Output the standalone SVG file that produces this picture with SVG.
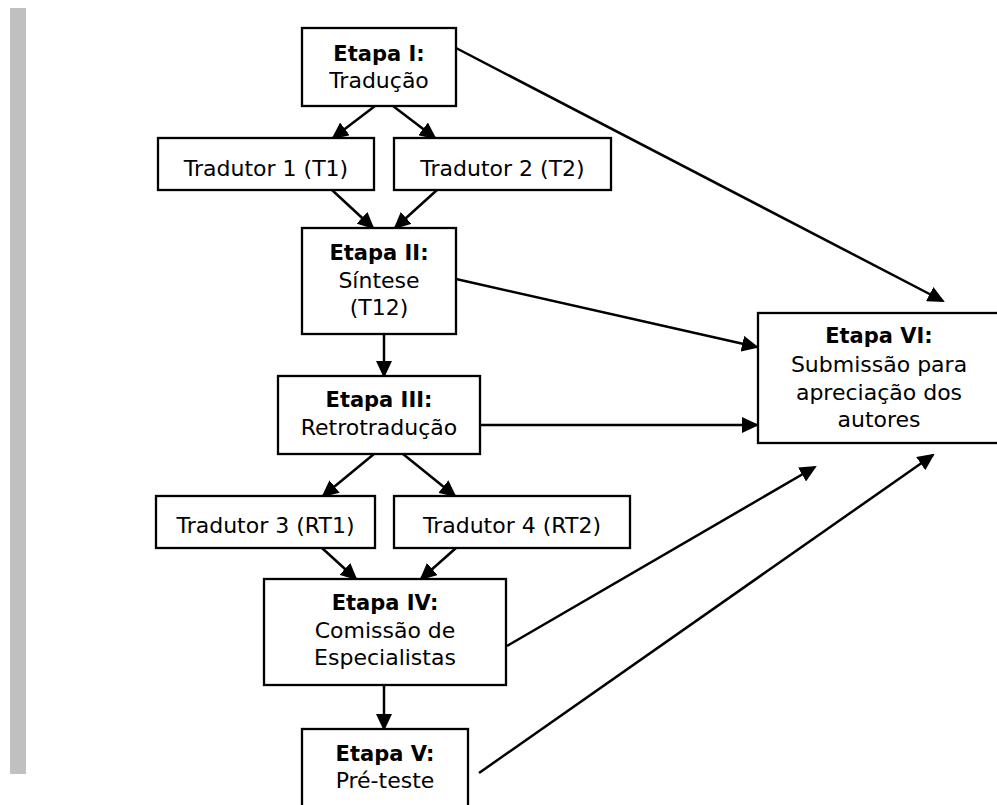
<svg xmlns="http://www.w3.org/2000/svg" width="997" height="805" viewBox="0 0 997 805">
<style>
.box{fill:#fff;stroke:#000;stroke-width:2.3}
text{font-family:"DejaVu Sans","Liberation Sans",sans-serif;font-size:22px;fill:#000;text-anchor:middle}
.b{font-weight:bold;font-size:21px}
.c line{stroke:#000;stroke-width:2.5;marker-end:url(#ah)}
</style>
<defs>
<marker id="ah" markerUnits="userSpaceOnUse" markerWidth="17" markerHeight="16" refX="15" refY="8" orient="auto" viewBox="0 0 17 16">
<path d="M0,0 L17,8 L0,16 z" fill="#000"/>
</marker>
</defs>
<rect x="10" y="8" width="16" height="766" fill="#c0c0c0"/>
<g class="c" id="connectors">
<line x1="375" y1="106" x2="333" y2="138"/>
<line x1="393" y1="106" x2="435" y2="138"/>
<line x1="332" y1="190" x2="373" y2="228"/>
<line x1="437" y1="190" x2="395" y2="228"/>
<line x1="384" y1="334" x2="384" y2="376"/>
<line x1="374" y1="454" x2="323" y2="496"/>
<line x1="403" y1="454" x2="455" y2="496"/>
<line x1="322" y1="548" x2="356" y2="579"/>
<line x1="456" y1="548" x2="421" y2="579"/>
<line x1="384" y1="685" x2="384" y2="729"/>
<line x1="456" y1="48" x2="943" y2="301"/>
<line x1="456" y1="279" x2="757" y2="347"/>
<line x1="480" y1="425" x2="757" y2="425"/>
<line x1="507" y1="646" x2="815" y2="467"/>
<line x1="479" y1="773" x2="933" y2="455"/>
</g>
<g id="etapa1">
<rect class="box" x="302" y="28" width="154" height="78"/>
<text x="379" y="61" class="b">Etapa I:</text>
<text x="379" y="88">Tradução</text>
</g>
<g id="t1">
<rect class="box" x="158" y="138" width="216" height="52"/>
<text x="266" y="176">Tradutor 1 (T1)</text>
</g>
<g id="t2">
<rect class="box" x="394" y="138" width="217" height="52"/>
<text x="502.5" y="176">Tradutor 2 (T2)</text>
</g>
<g id="etapa2">
<rect class="box" x="302" y="228" width="154" height="106"/>
<text x="379" y="260" class="b">Etapa II:</text>
<text x="379" y="288">Síntese</text>
<text x="379" y="315">(T12)</text>
</g>
<g id="etapa3">
<rect class="box" x="278" y="376" width="202" height="78"/>
<text x="379" y="407" class="b">Etapa III:</text>
<text x="379" y="435">Retrotradução</text>
</g>
<g id="t3">
<rect class="box" x="156" y="496" width="219" height="52"/>
<text x="265.5" y="533">Tradutor 3 (RT1)</text>
</g>
<g id="t4">
<rect class="box" x="394" y="496" width="236" height="52"/>
<text x="512" y="533">Tradutor 4 (RT2)</text>
</g>
<g id="etapa4">
<rect class="box" x="264" y="579" width="242" height="106"/>
<text x="385" y="610" class="b">Etapa IV:</text>
<text x="385" y="638">Comissão de</text>
<text x="385" y="665">Especialistas</text>
</g>
<g id="etapa5">
<rect class="box" x="302" y="729" width="166" height="90"/>
<text x="385" y="761" class="b">Etapa V:</text>
<text x="385" y="788">Pré-teste</text>
</g>
<g id="etapa6">
<rect class="box" x="758" y="313" width="245" height="130"/>
<text x="879" y="343" class="b">Etapa VI:</text>
<text x="879" y="372">Submissão para</text>
<text x="879" y="400">apreciação dos</text>
<text x="879" y="427">autores</text>
</g>
</svg>
